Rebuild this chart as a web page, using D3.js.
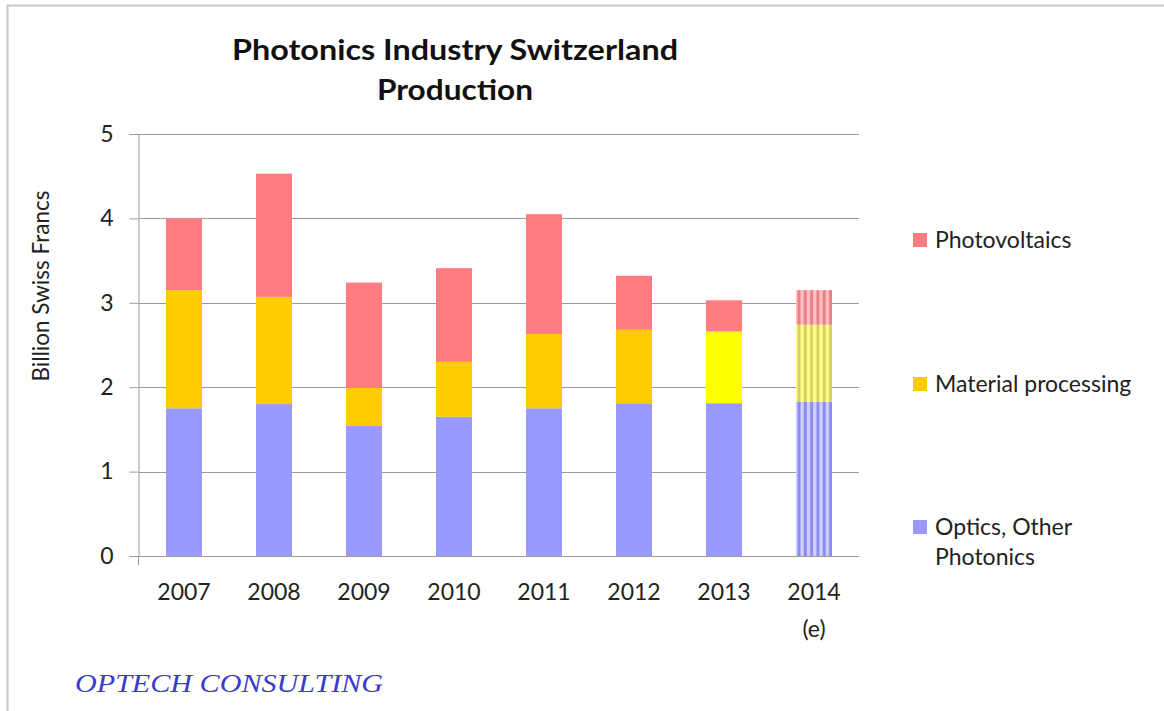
<!DOCTYPE html>
<html><head><meta charset="utf-8">
<script src="https://cdn.jsdelivr.net/npm/d3@7"></script>
<style>body{margin:0;background:#fff}svg{display:block}</style>
</head><body>
<svg id="c" width="1164" height="711"></svg>
<script>
const years = ["2007","2008","2009","2010","2011","2012","2013","2014"];
const yearSub = ["","","","","","","","(e)"];
const optics = [1.75,1.80,1.54,1.65,1.75,1.81,1.81,1.83];
const material = [1.40,1.27,0.45,0.65,0.88,0.87,0.85,0.91];
const pv = [0.85,1.46,1.25,1.11,1.42,0.64,0.37,0.41];
const seriesNames = ["Optics, Other Photonics","Material processing","Photovoltaics"];
const yTicks = [0,1,2,3,4,5];

const svg = d3.select("#c");
const font = "Lato, 'Open Sans', sans-serif";
// frame lines
svg.append("line").attr("x1",7).attr("x2",1164).attr("y1",5.5).attr("y2",5.5).attr("stroke","#c8c8c8").attr("stroke-width",2);
svg.append("line").attr("x1",7.5).attr("x2",7.5).attr("y1",5).attr("y2",711).attr("stroke","#c8c8c8").attr("stroke-width",2);

const x = d3.scaleBand().domain(years).range([139,859]).paddingInner(0.6).paddingOuter(0.3);
const y = d3.scaleLinear().domain([0,5]).range([556,134]);

// gridlines
svg.append("g").selectAll("line").data(yTicks).join("line")
  .attr("x1",139).attr("x2",859).attr("y1",d=>Math.round(y(d))+0.5).attr("y2",d=>Math.round(y(d))+0.5)
  .attr("stroke","#9a9a9a").attr("stroke-width",1);
// y axis
const yAxis = svg.append("g").attr("transform","translate(138.5,0)")
  .call(d3.axisLeft(y).tickValues(yTicks).tickSize(9).tickPadding(16).tickFormat(d3.format("d")));
yAxis.select(".domain").attr("stroke","#9a9a9a");
yAxis.selectAll(".tick line").attr("stroke","#9a9a9a");
yAxis.selectAll("text").attr("font-family",font).attr("font-size",23).attr("fill","#222");
svg.append("line").attr("x1",138.5).attr("x2",138.5).attr("y1",556).attr("y2",565).attr("stroke","#9a9a9a");

// patterns for estimate
const defs = svg.append("defs");
const patDefs = [
  {id:"pOpt", bg:"#d0d0ff", fg:"#8c8cf0"},
  {id:"pMat", bg:"#ffff88", fg:"#d8d060"},
  {id:"pPv", bg:"#ffc0c0", fg:"#e88088"}
];
patDefs.forEach(p=>{
  const pat = defs.append("pattern").attr("id",p.id).attr("patternUnits","userSpaceOnUse")
    .attr("width",6.3).attr("height",10).attr("x",x("2014"));
  pat.append("rect").attr("width",6.3).attr("height",10).attr("fill",p.bg);
  pat.append("rect").attr("x",1.5).attr("width",3).attr("height",10).attr("fill",p.fg);
});

const colors = [
  years.map((yr,i)=> i===7 ? "url(#pOpt)" : "#9999ff"),
  years.map((yr,i)=> i===7 ? "url(#pMat)" : (i===6 ? "#ffff00" : "#ffcc00")),
  years.map((yr,i)=> i===7 ? "url(#pPv)" : "#ff7c80")
];
const table = years.map((yr,i)=>({year:yr, s0:optics[i], s1:material[i], s2:pv[i]}));
const stack = d3.stack().keys(["s0","s1","s2"])(table);
stack.forEach((layer,si)=>{
  svg.append("g").selectAll("rect").data(layer).join("rect")
    .attr("x",d=>x(d.data.year)).attr("width",x.bandwidth())
    .attr("y",d=>y(d[1])).attr("height",d=>y(d[0])-y(d[1]))
    .attr("fill",(d,i)=>colors[si][i]);
});

// x labels
const xl = svg.append("g");
xl.selectAll("text.yr").data(years).join("text").attr("class","yr")
  .attr("x",d=>x(d)+x.bandwidth()/2).attr("y",600).attr("text-anchor","middle")
  .attr("font-family",font).attr("font-size",23).attr("fill","#222").text(d=>d);
xl.selectAll("text.sub").data(years).join("text").attr("class","sub")
  .attr("x",d=>x(d)+x.bandwidth()/2).attr("y",637).attr("text-anchor","middle")
  .attr("font-family",font).attr("font-size",23).attr("fill","#222").text((d,i)=>yearSub[i]);

// y axis title
svg.append("text").attr("transform","translate(49,286) rotate(-90)").attr("text-anchor","middle")
  .attr("font-family",font).attr("font-size",22.5).attr("fill","#222").text("Billion Swiss Francs");

// title
svg.append("text").attr("x",455).attr("y",60).attr("text-anchor","middle")
  .attr("font-family",font).attr("font-weight","bold").attr("font-size",28).attr("fill","#111")
  .attr("textLength",446).attr("lengthAdjust","spacingAndGlyphs").text("Photonics Industry Switzerland");
svg.append("text").attr("x",455).attr("y",100).attr("text-anchor","middle")
  .attr("font-family",font).attr("font-weight","bold").attr("font-size",28).attr("fill","#111")
  .attr("textLength",156).attr("lengthAdjust","spacingAndGlyphs").text("Production");

// legend
const legend = [
  {name:"Photovoltaics", color:"#ff7c80", lines:["Photovoltaics"], y:240},
  {name:"Material processing", color:"#ffcc00", lines:["Material processing"], y:384},
  {name:"Optics, Other Photonics", color:"#9999ff", lines:["Optics, Other","Photonics"], y:527}
];
const lg = svg.append("g").selectAll("g").data(legend).join("g");
lg.append("rect").attr("x",913).attr("y",d=>d.y-7).attr("width",14).attr("height",14).attr("fill",d=>d.color);
lg.append("text").attr("font-family",font).attr("font-size",23).attr("fill","#222")
  .selectAll("tspan").data(d=>d.lines.map((l,k)=>({l,k,y:d.y}))).join("tspan")
  .attr("x",935).attr("y",t=>t.y+8+t.k*30).text(t=>t.l);

// footer
svg.append("text").attr("x",75).attr("y",692).attr("font-family","'Liberation Serif', 'DejaVu Serif', serif")
  .attr("font-style","italic").attr("font-size",26).attr("fill","#3b3bcc")
  .attr("textLength",308).attr("lengthAdjust","spacingAndGlyphs").text("OPTECH CONSULTING");
</script>
</body></html>
